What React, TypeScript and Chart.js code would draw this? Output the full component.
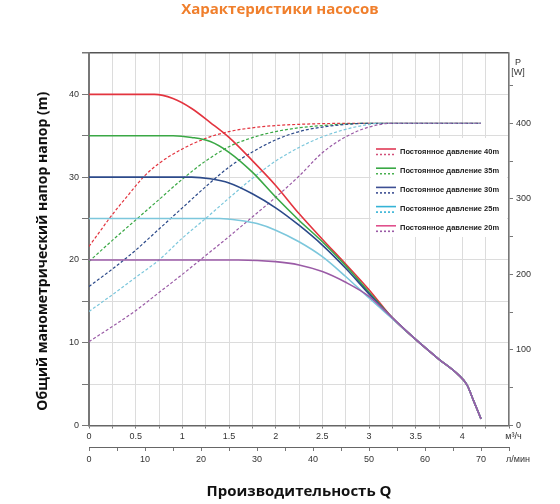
import { useEffect, useRef } from "react";
import { Chart, registerables, type Plugin } from "chart.js";

Chart.register(...registerables);

// Q in m³/h, H in m (solid curves)
const head40Q = [0, 0.7, 0.9, 1.1, 1.3, 1.5, 1.75, 2, 2.25, 2.5, 2.75, 3, 3.25];
const head40H = [40, 40, 39.5, 38.3, 36.6, 34.8, 32, 29, 25.6, 22.5, 19.5, 16.4, 13];
const head35Q = [0, 0.9, 1.1, 1.3, 1.5, 1.75, 2, 2.25, 2.5, 2.75, 3, 3.25];
const head35H = [35, 35, 34.8, 34.3, 33, 30.6, 27.6, 24.8, 22.2, 19.3, 16.1, 13];
const head30Q = [0, 1.1, 1.3, 1.5, 1.75, 2, 2.25, 2.5, 2.75, 3, 3.25];
const head30H = [30, 30, 29.8, 29.3, 28, 26.3, 24.2, 21.8, 19, 15.9, 13];
const head25Q = [0, 1.4, 1.6, 1.8, 2, 2.25, 2.5, 2.75, 3, 3.25];
const head25H = [25, 25, 24.8, 24.4, 23.6, 22.2, 20.4, 18, 15.4, 12.9];
const head20Q = [0, 1.6, 2, 2.25, 2.5, 2.75, 3, 3.25];
const head20H = [20, 20, 19.8, 19.4, 18.6, 17.3, 15.6, 13];
// common end of all head curves
const tailQ = [3.5, 3.75, 3.95, 4.05, 4.12, 4.2];
const tailH = [10.4, 8, 6.2, 4.9, 3, 0.8];

// Q in m³/h, P in W (dashed curves)
const power40Q = [0, 0.1, 0.2, 0.3, 0.4, 0.5, 0.6, 0.75, 1, 1.25, 1.5, 1.75, 2, 2.5, 3, 4.2];
const power40P = [237, 254, 271, 287, 302, 317, 331, 347, 366, 380, 389, 394, 397, 399.5, 400, 400];
const power35Q = [0, 0.25, 0.5, 0.75, 1, 1.25, 1.5, 1.75, 2, 2.25, 2.5, 2.75, 3, 4.2];
const power35P = [217, 245, 272, 299, 326, 350, 369, 381, 389, 394, 397, 399, 400, 400];
const power30Q = [0, 0.25, 0.5, 0.75, 1, 1.25, 1.5, 1.75, 2, 2.25, 2.5, 2.75, 3, 4.2];
const power30P = [184, 207, 232, 260, 288, 316, 342, 362, 378, 389, 395, 398.5, 400, 400];
const power25Q = [0, 0.25, 0.5, 0.75, 1, 1.25, 1.5, 1.75, 2, 2.25, 2.5, 2.75, 3, 3.1, 4.2];
const power25P = [151, 173, 196, 219, 248, 274, 301, 327, 350, 368, 382, 392, 398.5, 400, 400];
const power20Q = [0, 0.25, 0.5, 0.75, 1, 1.25, 1.5, 1.75, 2, 2.25, 2.5, 2.75, 3, 3.25, 4.2];
const power20P = [111, 131, 152, 176, 200, 225, 250, 276, 302, 330, 361, 382, 395, 400, 400];

const seriesNames = [
  "Постоянное давление 40m",
  "Постоянное давление 35m",
  "Постоянное давление 30m",
  "Постоянное давление 25m",
  "Постоянное давление 20m",
];
const lineColors = ["#e3343f", "#3aa845", "#2c4a8a", "#7cc7dc", "#9a5ba6"];
const legendSolidColors = ["#e03a55", "#3aa845", "#3d4f93", "#35b3d6", "#e0508c"];
const legendDotColors = ["#d2507a", "#48b04f", "#3d4f93", "#35b3d6", "#9a5ba6"];

const FONT = "'Liberation Sans', Arial, sans-serif";
const BOLD_FONT = "'Open Sans', 'Liberation Sans', sans-serif";

const toPoints = (q: number[], v: number[]) => q.map((x, i) => ({ x, y: v[i] }));

const legendPlugin: Plugin = {
  id: "pumpLegend",
  afterDraw(chart) {
    const { ctx, chartArea } = chart;
    const left = chartArea.right - 138;
    const top = chartArea.top + 85;
    ctx.save();
    ctx.fillStyle = "#ffffff";
    ctx.fillRect(left, top, 136, 99);
    ctx.font = `bold 7.5px ${FONT}`;
    ctx.textBaseline = "middle";
    ctx.fillStyle = "#222";
    seriesNames.forEach((name, i) => {
      const y = top + 13.5 + i * 19.2;
      ctx.setLineDash([]);
      ctx.lineWidth = 1.6;
      ctx.strokeStyle = legendSolidColors[i];
      ctx.beginPath();
      ctx.moveTo(left + 5, y - 2.5);
      ctx.lineTo(left + 25, y - 2.5);
      ctx.stroke();
      ctx.setLineDash([2, 2]);
      ctx.strokeStyle = legendDotColors[i];
      ctx.beginPath();
      ctx.moveTo(left + 5, y + 3);
      ctx.lineTo(left + 25, y + 3);
      ctx.stroke();
      ctx.fillText(name, left + 29, y);
    });
    ctx.restore();
  },
};

const textPlugin: Plugin = {
  id: "extraText",
  afterDraw(chart) {
    const { ctx, chartArea } = chart;
    ctx.save();
    ctx.fillStyle = "#333";
    ctx.font = `9px ${FONT}`;
    ctx.textAlign = "center";
    ctx.textBaseline = "middle";
    ctx.fillText("P", chartArea.right + 9, chartArea.top + 10);
    ctx.fillText("[W]", chartArea.right + 9, chartArea.top + 20);
    // left axis title
    ctx.translate(43, (chartArea.top + chartArea.bottom) / 2 + 12);
    ctx.rotate(-Math.PI / 2);
    ctx.fillStyle = "#111";
    ctx.font = `bold 14px ${BOLD_FONT}`;
    ctx.fillText("Общий манометрический напор напор (m)", 0, 0);
    ctx.restore();
  },
};

const App = () => {
  const canvasRef = useRef<HTMLCanvasElement | null>(null);

  useEffect(() => {
    if (!canvasRef.current) return;

    const heads = [
      toPoints([...head40Q, ...tailQ], [...head40H, ...tailH]),
      toPoints([...head35Q, ...tailQ], [...head35H, ...tailH]),
      toPoints([...head30Q, ...tailQ], [...head30H, ...tailH]),
      toPoints([...head25Q, ...tailQ], [...head25H, ...tailH]),
      toPoints([...head20Q, ...tailQ], [...head20H, ...tailH]),
    ];
    const powers = [
      toPoints(power40Q, power40P),
      toPoints(power35Q, power35P),
      toPoints(power30Q, power30P),
      toPoints(power25Q, power25P),
      toPoints(power20Q, power20P),
    ];

    // dataset 0 is drawn on top, so purple goes first
    const order = [4, 3, 2, 1, 0];
    const datasets = [
      ...order.map(i => ({
        label: seriesNames[i],
        data: heads[i],
        borderColor: lineColors[i],
        borderWidth: 1.6,
        pointRadius: 0,
        cubicInterpolationMode: "monotone" as const,
        yAxisID: "y",
      })),
      ...order.map(i => ({
        label: seriesNames[i] + " P",
        data: powers[i],
        borderColor: lineColors[i],
        borderWidth: 1.2,
        borderDash: [3, 2],
        pointRadius: 0,
        cubicInterpolationMode: "monotone" as const,
        yAxisID: "y1",
      })),
    ];

    const tickFont = { family: FONT, size: 9 };

    const chart = new Chart(canvasRef.current, {
      type: "line",
      data: { datasets },
      options: {
        responsive: true,
        maintainAspectRatio: false,
        animation: false,
        parsing: false,
        layout: { padding: 0 },
        plugins: {
          legend: { display: false },
          tooltip: { enabled: false },
          title: {
            display: true,
            text: "Характеристики насосов",
            color: "#f07f2c",
            font: { family: BOLD_FONT, size: 15, weight: "bold" },
            padding: { top: 1, bottom: 34 },
          },
        },
        scales: {
          x: {
            type: "linear",
            position: "bottom",
            min: 0,
            max: 4.5,
            weight: 0,
            ticks: {
              stepSize: 0.25,
              autoSkip: false,
              maxRotation: 0,
              color: "#333",
              font: tickFont,
              padding: 3,
              callback: v => {
                const n = Number(v);
                if (Math.abs(n - 4.5) < 1e-6) return "\u2002\u2002м³/ч";
                return Math.abs(n * 2 - Math.round(n * 2)) < 1e-6 ? String(n) : "";
              },
            },
            grid: { color: "#dcdcdc", tickLength: 3, tickColor: "#777" },
            border: { color: "#666", width: 1.5 },
            afterFit: scale => {
              scale.height = 21.5;
            },
          },
          x2: {
            type: "linear",
            position: "bottom",
            min: 0,
            max: 75,
            weight: 1,
            ticks: {
              stepSize: 5,
              autoSkip: false,
              maxRotation: 0,
              color: "#333",
              font: tickFont,
              padding: 3,
              callback: v => {
                const n = Number(v);
                if (n === 75) return "\u2002\u2002\u2002\u2002л/мин";
                return n % 10 === 0 ? String(n) : "";
              },
            },
            grid: { drawOnChartArea: false, tickLength: 4, color: "#777" },
            border: { color: "#666", width: 1 },
            title: {
              display: true,
              text: "Производительность Q",
              color: "#111",
              font: { family: BOLD_FONT, size: 15, weight: "bold" },
              padding: { top: 0, bottom: 3 },
            },
            afterFit: scale => {
              scale.height = 57;
            },
          },
          y: {
            type: "linear",
            position: "left",
            min: 0,
            max: 45,
            ticks: {
              stepSize: 5,
              color: "#333",
              font: tickFont,
              padding: 3,
              callback: v => (Number(v) % 10 === 0 ? String(v) : ""),
            },
            grid: {
              color: ctx => (ctx.tick && ctx.tick.value === 45 ? "#555" : "#dcdcdc"),
              lineWidth: ctx => (ctx.tick && ctx.tick.value === 45 ? 1.5 : 1),
              tickLength: 7,
              tickColor: "#777",
            },
            border: { color: "#777", width: 2 },
            afterFit: scale => {
              scale.width = 89;
            },
          },
          y1: {
            type: "linear",
            position: "right",
            min: 0,
            max: 493,
            ticks: {
              stepSize: 50,
              includeBounds: false,
              color: "#333",
              font: tickFont,
              padding: 3,
              callback: v => (Number(v) % 100 === 0 ? String(v) : ""),
            },
            grid: { drawOnChartArea: false, tickLength: 4, color: "#777" },
            border: { color: "#777", width: 1.5 },
            afterFit: scale => {
              scale.width = 51;
            },
          },
        },
      },
      plugins: [legendPlugin, textPlugin],
    });

    return () => {
      chart.destroy();
    };
  }, []);

  return (
    <div style={{ position: "fixed", left: 0, top: 0, width: 560, height: 504, background: "#fff" }}>
      <canvas ref={canvasRef} />
    </div>
  );
};

export default App;
